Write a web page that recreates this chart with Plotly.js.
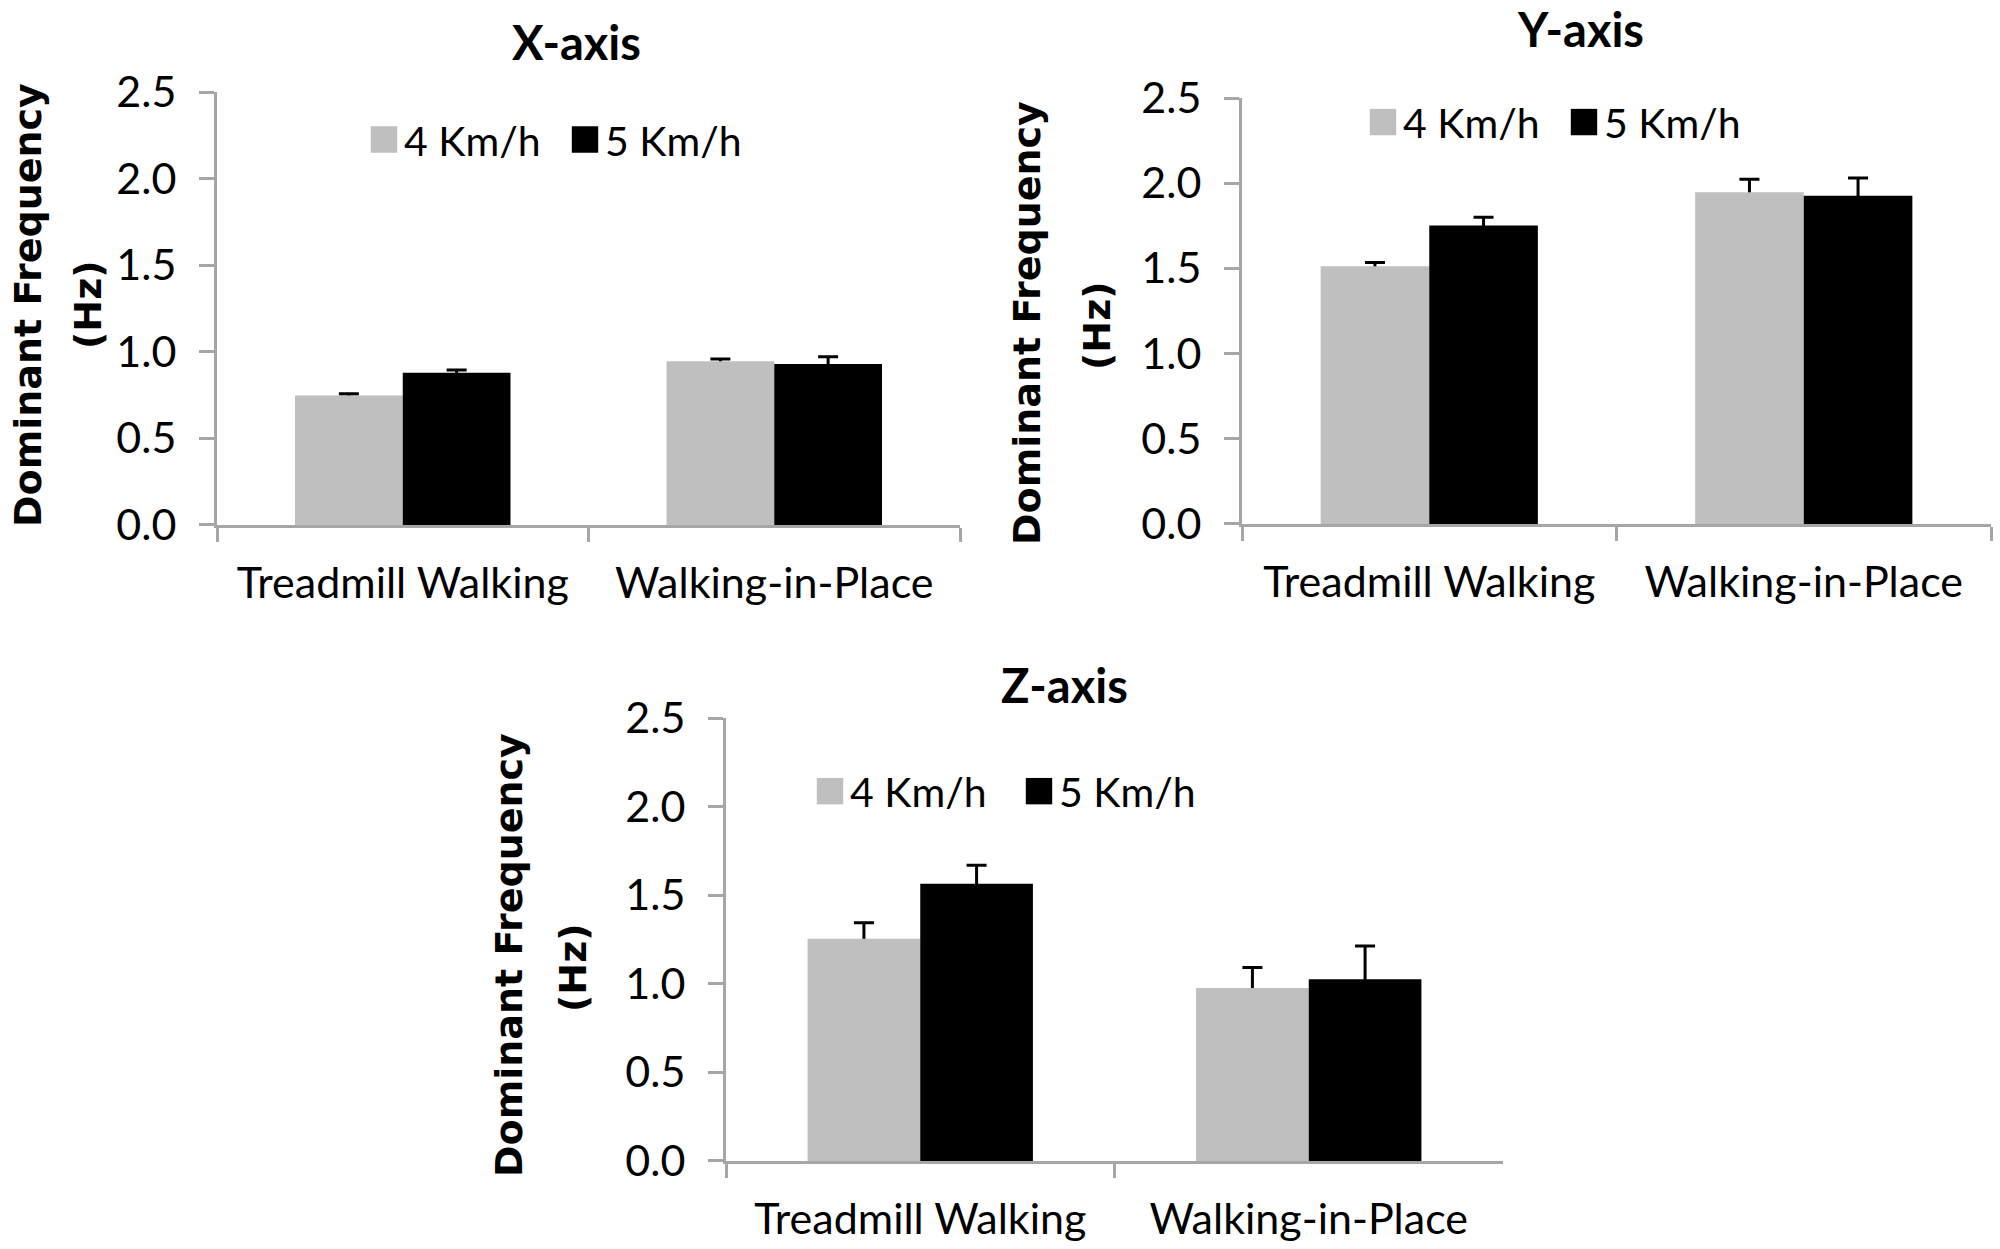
<!DOCTYPE html>
<html>
<head>
<meta charset="utf-8">
<script src="https://cdn.plot.ly/plotly-3.0.1.min.js"></script>
<style>
  html, body { margin: 0; padding: 0; background: #fff; }
  #plot { width: 2000px; height: 1249px; }
</style>
</head>
<body>
<div id="plot"></div>
<script>
var conditions = ['Treadmill Walking', 'Walking-in-Place'];
var speeds = ['4 Km/h', '5 Km/h'];
var yTicks = [0, 0.5, 1.0, 1.5, 2.0, 2.5];

// X-axis
var x4 = [0.747, 0.946];
var x5 = [0.879, 0.929];
var x4err = [0.010, 0.013];
var x5err = [0.016, 0.042];
// Y-axis
var y4 = [1.512, 1.947];
var y5 = [1.752, 1.927];
var y4err = [0.022, 0.076];
var y5err = [0.048, 0.104];
// Z-axis
var z4 = [1.254, 0.976];
var z5 = [1.564, 1.026];
var z4err = [0.090, 0.116];
var z5err = [0.105, 0.187];

var grey = '#bfbfbf';
var tickFont = {family: 'Lato, sans-serif', size: 43, color: '#000'};
var axisGrey = '#a6a6a6';

var panels = [
  {xa: 'x', ya: 'y', leg: 'legend', v4: x4, v5: x5, e4: x4err, e5: x5err},
  {xa: 'x2', ya: 'y2', leg: 'legend2', v4: y4, v5: y5, e4: y4err, e5: y5err},
  {xa: 'x3', ya: 'y3', leg: 'legend3', v4: z4, v5: z5, e4: z4err, e5: z5err}
];

var data = [];
panels.forEach(function(p) {
  // error bars sit under the visible bars so only the upper half shows
  [[p.v4, p.e4, '4'], [p.v5, p.e5, '5']].forEach(function(s) {
    data.push({
      type: 'bar', x: conditions, y: s[0], xaxis: p.xa, yaxis: p.ya,
      offsetgroup: s[2], marker: {color: 'rgba(0,0,0,0)'},
      error_y: {type: 'data', array: s[1], visible: true, color: '#000', thickness: 3, width: 10},
      showlegend: false, hoverinfo: 'skip'
    });
  });
  data.push({
    type: 'bar', name: speeds[0], x: conditions, y: p.v4, xaxis: p.xa, yaxis: p.ya,
    offsetgroup: '4', marker: {color: grey}, legend: p.leg
  });
  data.push({
    type: 'bar', name: speeds[1], x: conditions, y: p.v5, xaxis: p.xa, yaxis: p.ya,
    offsetgroup: '5', marker: {color: '#000'}, legend: p.leg
  });
});

function xAxis(domain, anchor) {
  return {
    domain: domain, anchor: anchor, type: 'category',
    showline: true, linecolor: axisGrey, linewidth: 3,
    ticks: 'outside', tickson: 'boundaries', ticklen: 14, tickwidth: 3, tickcolor: axisGrey,
    tickfont: tickFont, showgrid: false, zeroline: false, fixedrange: true,
    ticklabelstandoff: 18
  };
}
function yAxis(domain, anchor) {
  return {
    domain: domain, anchor: anchor, range: [0, 2.5],
    tickvals: yTicks, ticktext: yTicks.map(function(v) { return v.toFixed(1); }),
    showline: true, linecolor: axisGrey, linewidth: 3,
    ticks: 'outside', ticklen: 15, tickwidth: 3, tickcolor: axisGrey,
    tickfont: tickFont, showgrid: false, zeroline: false, fixedrange: true,
    ticklabelstandoff: 14
  };
}
function legendAt(x, y, w) {
  return {
    orientation: 'h', x: x, y: y, xanchor: 'left', yanchor: 'middle',
    font: {family: 'Lato, sans-serif', size: 41, color: '#000'},
    bgcolor: 'rgba(0,0,0,0)', entrywidth: w, traceorder: 'normal'
  };
}

var titleFont = {family: 'Lato, sans-serif', size: 47, color: '#000', weight: 700};
var yTitleFont = {family: 'DejaVu Sans, sans-serif', size: 38, color: '#000', weight: 700};

function note(text, x, y, font, angle) {
  return {
    text: text, xref: 'paper', yref: 'paper', x: x, y: y,
    xanchor: 'center', yanchor: 'middle', showarrow: false,
    font: font, textangle: angle || 0
  };
}

var layout = {
  width: 2000, height: 1249,
  margin: {l: 0, r: 0, t: 0, b: 0},
  paper_bgcolor: '#fff', plot_bgcolor: '#fff',
  barmode: 'group', bargap: 0.42, bargroupgap: 0,
  xaxis: xAxis([0.1085, 0.48], 'y'),
  yaxis: yAxis([0.5797, 0.9263], 'x'),
  xaxis2: xAxis([0.621, 0.9955], 'y2'),
  yaxis2: yAxis([0.5805, 0.9215], 'x2'),
  xaxis3: xAxis([0.363, 0.7515], 'y3'),
  yaxis3: yAxis([0.0705, 0.4251], 'x3'),
  legend: legendAt(0.182, 0.888, 156),
  legend2: legendAt(0.6815, 0.902, 156),
  legend3: legendAt(0.405, 0.3663, 164),
  annotations: [
    note('X-axis', 0.288, 0.966, titleFont),
    note('Y-axis', 0.790, 0.9765, titleFont),
    note('Z-axis', 0.532, 0.4516, titleFont),
    note('Dominant Frequency', 0.014, 1 - 305 / 1249, yTitleFont, -90),
    note('(Hz)', 0.044, 1 - 305 / 1249, yTitleFont, -90),
    note('Dominant Frequency', 0.5135, 1 - 323 / 1249, yTitleFont, -90),
    note('(Hz)', 0.5485, 1 - 326 / 1249, yTitleFont, -90),
    note('Dominant Frequency', 0.2545, 1 - 955 / 1249, yTitleFont, -90),
    note('(Hz)', 0.2865, 1 - 968 / 1249, yTitleFont, -90)
  ],
  showlegend: true
};

Plotly.newPlot('plot', data, layout, {staticPlot: true}).then(function() {
  // bigger legend swatches, like the original
  document.querySelectorAll('.legendpoints path').forEach(function(el) {
    var t = el.getAttribute('transform') || '';
    el.setAttribute('transform', t + ' scale(2.2)');
  });
});
</script>
</body>
</html>
